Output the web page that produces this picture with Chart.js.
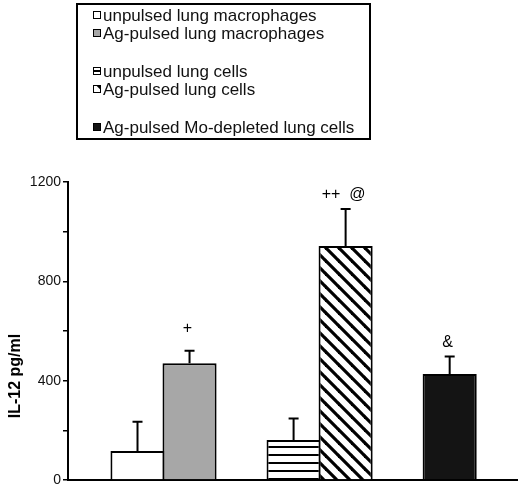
<!DOCTYPE html>
<html>
<head>
<meta charset="utf-8">
<script src="https://cdn.jsdelivr.net/npm/chart.js@4"></script>
<style>
  html, body { margin: 0; padding: 0; background: #fff; }
  #wrap { width: 520px; height: 491px; position: relative; }
</style>
</head>
<body>
<div id="wrap"><canvas id="chart"></canvas></div>
<script>
// values (IL-12 pg/ml, mean and upper error)
const categories = [
    'unpulsed lung macrophages',
    'Ag-pulsed lung macrophages',
    'unpulsed lung cells',
    'Ag-pulsed lung cells',
    'Ag-pulsed Mo-depleted lung cells'
];
const groups = [0, 0, 1, 1, 2];      // cluster of each bar
const means = [117, 470, 161, 942, 427];
const errors = [118, 50, 87, 149, 70];
const marks = ['', '+', '', '++  @', '&'];
const yTicks = [0, 400, 800, 1200];

const FONT = "'Liberation Sans', Arial, sans-serif";
Chart.defaults.font.family = FONT;
Chart.defaults.color = '#000';

const ctx = document.getElementById('chart').getContext('2d');

function makePattern(kind){
    const c = document.createElement('canvas');
    const g = c.getContext('2d');
    if (kind === 'hstripe') {
        c.width = 8; c.height = 8;
        g.fillStyle = '#fff'; g.fillRect(0, 0, 8, 8);
        g.fillStyle = '#000'; g.fillRect(0, 6, 8, 2);
    } else {
        const s = 13;
        c.width = s; c.height = s;
        g.fillStyle = '#fff'; g.fillRect(0, 0, s, s);
        g.strokeStyle = '#000'; g.lineWidth = 3.2;
        for (const k of [-s, 0, s]) {
            g.beginPath();
            g.moveTo(k - 1, -1);
            g.lineTo(k + s + 1, s + 1);
            g.stroke();
        }
    }
    return ctx.createPattern(c, 'repeat');
}

const fills = ['#ffffff', '#a7a7a7', makePattern('hstripe'), makePattern('diag'), '#141414'];
// the single '+' sits a bit higher in the original
const markLift = [0, 8, 0, 0, 0];

// error bars, significance marks, legend box and y title
const extras = {
    id: 'extras',
    afterDatasetsDraw(chart){
        const c = chart.ctx;
        const y = chart.scales.y;
        const meta = chart.getDatasetMeta(0);
        c.save();
        c.strokeStyle = '#000';
        c.lineWidth = 2;
        c.fillStyle = '#000';
        c.font = '16px ' + FONT;
        c.textAlign = 'center';
        c.textBaseline = 'middle';
        meta.data.forEach((bar, i) => {
            const top = y.getPixelForValue(means[i] + errors[i]);
            c.beginPath();
            c.moveTo(bar.x, bar.y);
            c.lineTo(bar.x, top);
            c.moveTo(bar.x - 5, top);
            c.lineTo(bar.x + 5, top);
            c.stroke();
            if (marks[i]) c.fillText(marks[i], bar.x - 2, top - 14 - markLift[i]);
        });
        c.restore();
    },
    afterDraw(chart){
        const c = chart.ctx;
        c.save();
        // legend
        c.strokeStyle = '#000';
        c.lineWidth = 2;
        c.strokeRect(77, 4, 293, 135);
        c.font = '17px ' + FONT;
        c.textAlign = 'left';
        c.textBaseline = 'middle';
        categories.forEach((name, i) => {
            const yc = 15 + 18 * i + 20 * groups[i];
            c.fillStyle = fills[i];
            c.fillRect(93, yc - 4, 8, 8);
            c.lineWidth = 1;
            c.strokeRect(93.5, yc - 3.5, 7, 7);
            c.fillStyle = '#111';
            c.fillText(name, 103, yc + 1);
        });
        // y axis title
        c.translate(15.5, 376);
        c.rotate(-Math.PI / 2);
        c.font = 'bold 16px ' + FONT;
        c.textAlign = 'center';
        c.fillStyle = '#000';
        c.fillText('IL-12 pg/ml', 0, 0);
        c.restore();
    }
};

new Chart(ctx, {
    type: 'bar',
    data: {
        datasets: [{
            data: means.map((v, i) => ({ x: i + groups[i], y: v })),
            backgroundColor: fills,
            borderColor: '#000',
            borderWidth: 2,
            barPercentage: 1.04,
            categoryPercentage: 1
        }]
    },
    options: {
        responsive: true,
        maintainAspectRatio: false,
        animation: false,
        layout: { padding: { top: 182, right: 3, bottom: 11, left: 0 } },
        plugins: {
            legend: { display: false },
            tooltip: { enabled: false }
        },
        scales: {
            x: {
                type: 'linear',
                offset: false,
                min: -1.336,
                max: 7.294,
                ticks: { display: false },
                grid: { display: false, offset: false },
                border: { color: '#000', width: 2 },
                afterFit: s => { s.height = 0; }
            },
            y: {
                min: 0,
                max: 1200,
                ticks: {
                    stepSize: 200,
                    padding: 2,
                    font: { size: 14 },
                    color: '#111',
                    callback: v => yTicks.includes(v) ? v : ''
                },
                grid: { drawOnChartArea: false, drawTicks: true, tickLength: 5, color: '#000', lineWidth: 1.5 },
                border: { color: '#000', width: 2 },
                afterFit: s => { s.width = 68; }
            }
        }
    },
    plugins: [extras]
});
</script>
</body>
</html>
